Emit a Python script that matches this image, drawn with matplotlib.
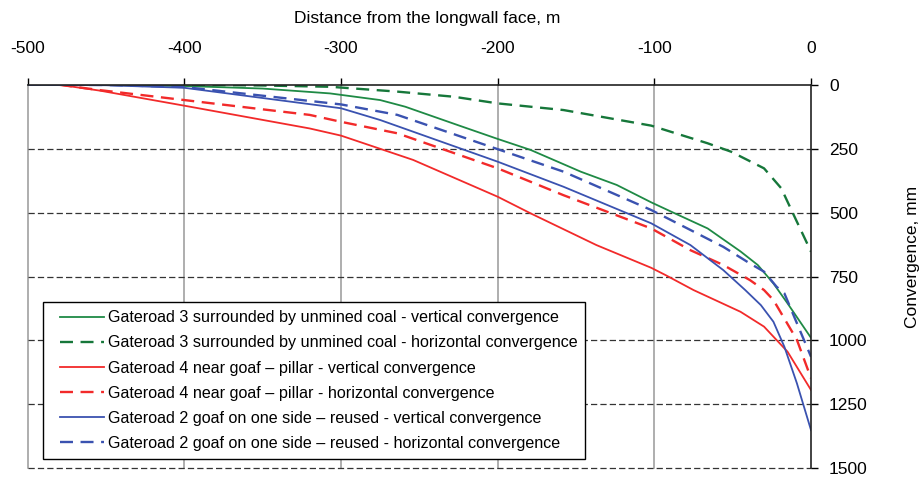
import matplotlib
matplotlib.use("Agg")
import matplotlib.pyplot as plt
from matplotlib.lines import Line2D
from matplotlib.legend_handler import HandlerLine2D

plt.rcParams["font.family"] = ["Liberation Sans", "DejaVu Sans"]
plt.rcParams["axes.unicode_minus"] = False

# Gateroad 3 - surrounded by unmined coal
g3_v_x = [-500, -450, -400, -350, -307, -275, -259, -224, -200, -179, -147, -124, -102, -88, -66, -45, -34, -24, -15, 0]
g3_v_y = [0, 1, 5, 15, 34, 60, 86, 161, 212, 255, 340, 392, 460, 500, 562, 652, 705, 777, 855, 990]
g3_h_x = [-500, -400, -350, -307, -264, -228, -200, -158, -102, -66, -51, -30, -19, -11, 0]
g3_h_y = [0, 0, 3, 8, 27, 47, 73, 99, 160, 229, 262, 327, 405, 510, 653]

# Gateroad 4 - near goaf, pillar
g4_v_x = [-480, -454, -400, -320, -300, -254, -200, -179, -137, -102, -93, -75, -45, -30, -15, 0]
g4_v_y = [0, 23, 82, 171, 199, 294, 438, 503, 627, 716, 744, 803, 888, 946, 1044, 1194]
g4_h_x = [-480, -454, -400, -320, -300, -264, -200, -158, -102, -77, -56, -39, -30, -24, -9, 0]
g4_h_y = [0, 21, 60, 118, 145, 190, 327, 432, 562, 647, 705, 764, 803, 842, 998, 1148]

# Gateroad 2 - goaf on one side, reused
g2_v_x = [-500, -450, -400, -300, -275, -200, -158, -102, -77, -56, -42, -32, -24, -17, -9, 0]
g2_v_y = [0, 2, 12, 92, 138, 301, 399, 542, 627, 725, 803, 862, 927, 1025, 1168, 1351]
g2_h_x = [-500, -450, -400, -300, -264, -200, -158, -102, -77, -56, -39, -30, -22, -17, -9, 0]
g2_h_y = [0, 1, 9, 77, 118, 252, 340, 490, 568, 634, 699, 731, 790, 816, 933, 1064]

labels = [
    "Gateroad 3 surrounded by unmined coal - vertical convergence",
    "Gateroad 3 surrounded by unmined coal - horizontal convergence",
    "Gateroad 4 near goaf \u2013 pillar - vertical convergence",
    "Gateroad 4 near goaf \u2013 pillar - horizontal convergence",
    "Gateroad 2 goaf on one side \u2013 reused - vertical convergence",
    "Gateroad 2 goaf on one side \u2013 reused - horizontal convergence",
]

green = "#1f8a45"
green_d = "#16773a"
red = "#f22a2a"
blue = "#3a52b0"

fig = plt.figure(figsize=(9.21, 4.8), dpi=100)
ax = fig.add_axes([0.030, 0.0244, 0.8506, 0.7991])

dash = (5.5, 3.2)
ax.plot(g3_v_x, g3_v_y, color=green, lw=1.3, label=labels[0])
ax.plot(g3_h_x, g3_h_y, color=green_d, lw=1.7, dashes=dash, label=labels[1])
ax.plot(g4_v_x, g4_v_y, color=red, lw=1.3, label=labels[2])
ax.plot(g4_h_x, g4_h_y, color=red, lw=1.7, dashes=dash, label=labels[3])
ax.plot(g2_v_x, g2_v_y, color=blue, lw=1.3, label=labels[4])
ax.plot(g2_h_x, g2_h_y, color=blue, lw=1.7, dashes=dash, label=labels[5])

ax.set_xlim(-500, 0)
ax.set_ylim(1500, 0)
ax.set_xticks(range(-500, 1, 100))
ax.set_yticks(range(0, 1501, 250))

ax.xaxis.tick_top()
ax.yaxis.tick_right()
ax.tick_params(axis="both", labelsize=12.5, length=5, width=1, color="black")
ax.tick_params(axis="x", pad=16)
ax.tick_params(axis="y", pad=8)

# grid: solid grey verticals, dashed black horizontals
for xv in range(-500, 0, 100):
    ax.axvline(xv, color="#999999", lw=1.1, zorder=0, clip_on=False)
for yv in range(250, 1501, 250):
    ax.axhline(yv, color="#333333", lw=0.9, dashes=(5, 2.5), zorder=0, clip_on=False)

ax.spines["left"].set_visible(False)
ax.spines["bottom"].set_visible(False)
ax.spines["top"].set_color("#222222")
ax.spines["right"].set_color("#222222")
ax.spines["top"].set_linewidth(1.2)
ax.spines["right"].set_linewidth(1.2)

ax.set_xlabel("Distance from the longwall face, m", fontsize=12.5)
ax.xaxis.set_label_position("top")
ax.xaxis.set_label_coords(0.51, 1.16)
ax.set_ylabel("Convergence, mm", fontsize=12.5)
ax.yaxis.set_label_position("right")
ax.yaxis.set_label_coords(1.12, 0.55)

leg = ax.legend(loc="lower left", bbox_to_anchor=(0.019, 0.024), borderaxespad=0,
                fontsize=11.6, frameon=True, fancybox=False, framealpha=1,
                edgecolor="black", handlelength=3.3, handletextpad=0.25,
                labelspacing=0.63, borderpad=0.5,
                handler_map={Line2D: HandlerLine2D(xpad=0.57)})
leg.get_frame().set_linewidth(1.0)

fig.savefig("out.png", dpi=100)
